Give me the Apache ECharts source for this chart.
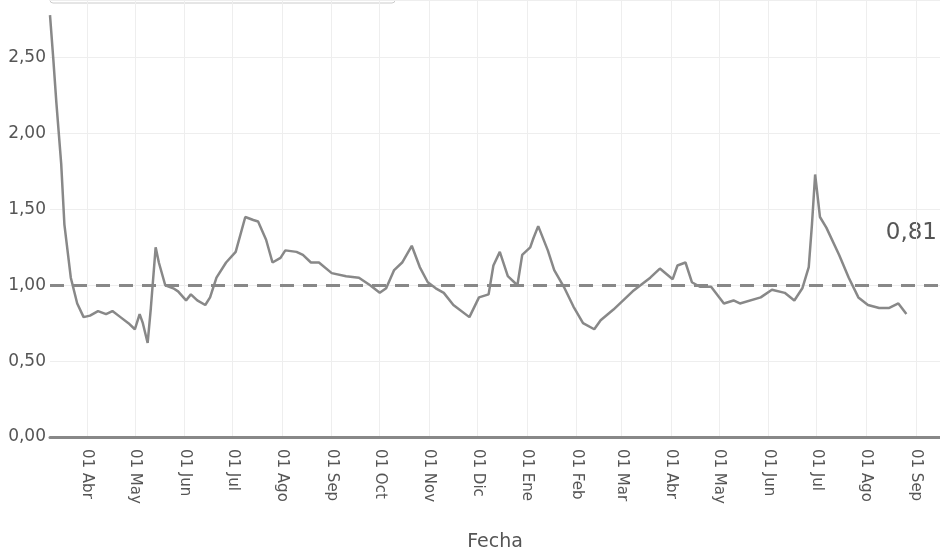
<!DOCTYPE html>
<html><head><meta charset="utf-8">
<script src="https://cdn.jsdelivr.net/npm/echarts@6/dist/echarts.min.js"></script>
<style>html,body{margin:0;padding:0;background:#fff}#c{width:940px;height:558px}</style>
</head><body><div id="c"></div>
<script>
const dates = ["2020-03-09","2020-03-11","2020-03-13","2020-03-16","2020-03-18","2020-03-22","2020-03-26","2020-03-30","2020-04-03","2020-04-08","2020-04-13","2020-04-17","2020-04-22","2020-04-27","2020-05-01","2020-05-02","2020-05-04","2020-05-06","2020-05-09","2020-05-11","2020-05-14","2020-05-16","2020-05-20","2020-05-25","2020-05-28","2020-06-02","2020-06-05","2020-06-09","2020-06-14","2020-06-17","2020-06-21","2020-06-27","2020-07-03","2020-07-09","2020-07-14","2020-07-17","2020-07-22","2020-07-26","2020-07-31","2020-08-03","2020-08-10","2020-08-14","2020-08-19","2020-08-24","2020-09-01","2020-09-10","2020-09-18","2020-09-25","2020-10-01","2020-10-05","2020-10-10","2020-10-15","2020-10-21","2020-10-26","2020-10-31","2020-11-05","2020-11-10","2020-11-16","2020-11-26","2020-12-02","2020-12-08","2020-12-11","2020-12-15","2020-12-20","2020-12-26","2020-12-29","2021-01-03","2021-01-05","2021-01-08","2021-01-14","2021-01-18","2021-01-24","2021-01-30","2021-02-05","2021-02-12","2021-02-16","2021-02-24","2021-03-08","2021-03-19","2021-03-25","2021-04-02","2021-04-05","2021-04-10","2021-04-14","2021-04-19","2021-04-26","2021-05-04","2021-05-10","2021-05-14","2021-05-27","2021-06-03","2021-06-11","2021-06-17","2021-06-22","2021-06-26","2021-06-28","2021-06-30","2021-07-03","2021-07-07","2021-07-15","2021-07-21","2021-07-27","2021-08-02","2021-08-09","2021-08-15","2021-08-21","2021-08-26"];
const values = [2.78,2.5,2.2,1.8,1.4,1.05,0.88,0.79,0.8,0.83,0.81,0.83,0.79,0.75,0.71,0.70,0.81,0.75,0.62,0.85,1.25,1.15,1.0,0.98,0.96,0.90,0.94,0.90,0.87,0.92,1.05,1.15,1.22,1.45,1.43,1.42,1.30,1.15,1.18,1.23,1.22,1.20,1.15,1.15,1.08,1.06,1.05,1.0,0.95,0.98,1.10,1.15,1.26,1.12,1.02,0.98,0.95,0.87,0.79,0.92,0.94,1.13,1.22,1.06,1.0,1.2,1.25,1.31,1.39,1.23,1.10,0.99,0.86,0.75,0.71,0.77,0.84,0.96,1.05,1.11,1.04,1.13,1.15,1.02,0.99,0.99,0.88,0.90,0.88,0.92,0.97,0.95,0.90,0.98,1.12,1.4,1.73,1.45,1.38,1.2,1.05,0.92,0.87,0.85,0.85,0.88,0.81];
const monthTicks = ["2020-04-01","2020-05-01","2020-06-01","2020-07-01","2020-08-01","2020-09-01","2020-10-01","2020-11-01","2020-12-01","2021-01-01","2021-02-01","2021-03-01","2021-04-01","2021-05-01","2021-06-01","2021-07-01","2021-08-01","2021-09-01"];
const monthNames = ["Ene","Feb","Mar","Abr","May","Jun","Jul","Ago","Sep","Oct","Nov","Dic"];
const yTicks = [0,0.5,1,1.5,2,2.5];
const threshold = 1;

const ts = d => new Date(d + "T00:00:00").getTime();
const tickVals = monthTicks.map(ts);
const chart = echarts.init(document.getElementById('c'));
const last = values[values.length-1];
chart.setOption({
  animation:false,
  grid:{left:50,right:0,top:0,bottom:121,containLabel:false},
  xAxis:{type:'value',min:ts("2020-03-09"),max:ts("2021-09-16"),
    name:'Fecha',nameLocation:'middle',nameGap:96,nameTextStyle:{fontSize:19,color:'#555',fontFamily:'DejaVu Sans'},
    axisLine:{lineStyle:{color:'#888',width:3}},axisTick:{show:false,customValues:tickVals},
    splitLine:{show:true,lineStyle:{color:'#eee',width:1}},
    axisLabel:{customValues:tickVals,rotate:-90,fontSize:15,color:'#555',fontFamily:'DejaVu Sans',margin:12,
      formatter:v=>{const d=new Date(v);return '01 '+monthNames[d.getMonth()];}}},
  yAxis:{type:'value',min:0,max:2.88,interval:0.5,
    axisLine:{show:false},axisTick:{show:false},
    splitLine:{lineStyle:{color:'#eee'}},
    axisLabel:{fontSize:17,color:'#555',fontFamily:'DejaVu Sans',margin:4,showMaxLabel:false,
      formatter:v=>yTicks.indexOf(v)>=0?v.toFixed(2).replace('.',','):''}},
  series:[{type:'line',data:dates.map((d,i)=>[ts(d),values[i]]),showSymbol:false,
    lineStyle:{color:'#888',width:2.5},itemStyle:{color:'#888'},
    markLine:{symbol:'none',silent:true,label:{show:false},lineStyle:{color:'#888',type:[14,9],width:3},data:[{yAxis:threshold}]}}],
  graphic:[
    {type:'rect',shape:{x:50,y:-20,width:345,height:23,r:3},style:{fill:'#fff',stroke:'#ccc',lineWidth:1}},
    {type:'text',right:3,top:222,style:{text:last.toFixed(2).replace('.',','),fontSize:23,fill:'#555',fontFamily:'DejaVu Sans'}}
  ]
});
</script></body></html>
